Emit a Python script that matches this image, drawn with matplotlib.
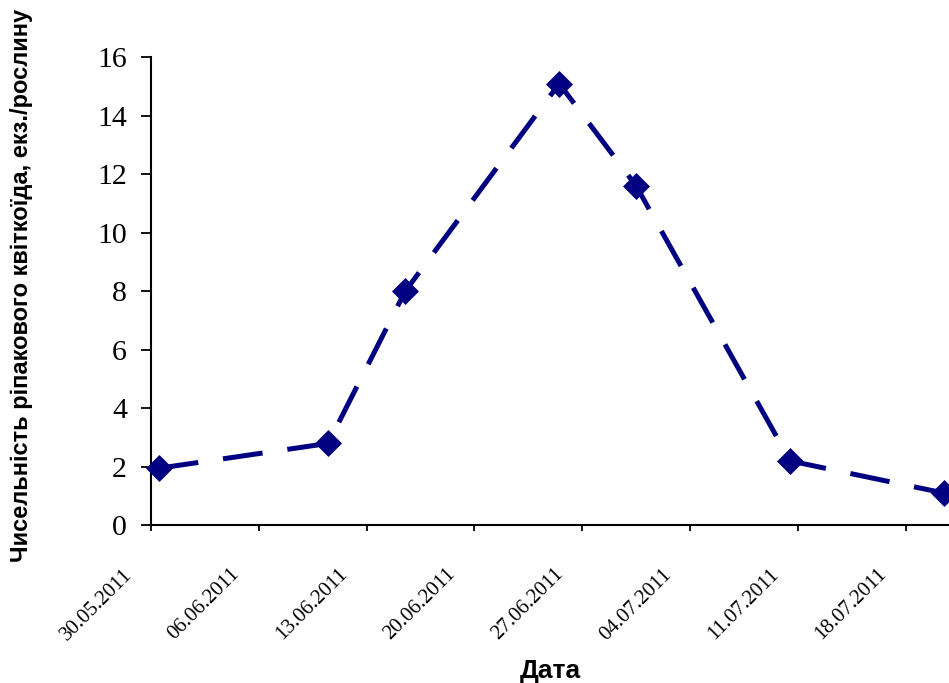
import numpy as np
import pandas as pd
import matplotlib
matplotlib.use('Agg')
import matplotlib.pyplot as plt
import matplotlib.transforms as mtransforms

# sampling dates and counts (specimens per plant)
dates = ['2011-05-30', '2011-06-10', '2011-06-15', '2011-06-25',
         '2011-06-30', '2011-07-10', '2011-07-20']
counts = [1.95, 2.8, 8.0, 15.1, 11.6, 2.2, 1.1]

tick_dates = ['2011-05-30', '2011-06-06', '2011-06-13', '2011-06-20',
              '2011-06-27', '2011-07-04', '2011-07-11', '2011-07-18']
tick_labels = ['30.05.2011', '06.06.2011', '13.06.2011', '20.06.2011',
               '27.06.2011', '04.07.2011', '11.07.2011', '18.07.2011']
y_ticks = [0, 2, 4, 6, 8, 10, 12, 14, 16]

ylab = 'Чисельність ріпакового квіткоїда, екз./рослину'
xlab = 'Дата'

# excel date axis puts points in the middle of the day
x = pd.to_datetime(dates) + pd.Timedelta(hours=12)
xt = pd.to_datetime(tick_dates)

fig = plt.figure(figsize=(9.49, 6.83), dpi=100)
ax = fig.add_axes([151/949, 1-525.3/683, 801/949, (525.3-57.3)/683])

navy = '#000080'
ax.plot(x, counts, color=navy, lw=3.6, ls=(0, (8, 5)), marker='D',
        ms=13, mec=navy, mfc=navy, mew=0.5, clip_on=False, zorder=3)

ax.set_xlim(pd.Timestamp('2011-05-30'), pd.Timestamp('2011-07-21'))
ax.set_ylim(0, 16)

ax.set_xticks(xt)
ax.set_xticklabels(tick_labels, rotation=45, ha='right', va='top',
                   family='Liberation Serif', fontsize=15)
ax.set_yticks(y_ticks)
ax.set_yticklabels([str(v) for v in y_ticks], family='Liberation Serif', fontsize=21.5)

ax.tick_params(axis='y', direction='out', length=7.2, width=1.3, pad=10)
ax.tick_params(axis='x', direction='out', length=4.5, width=1.3, pad=24)

# shift date labels a little to the left like excel does
shift = mtransforms.ScaledTranslation(-0.15, 0, fig.dpi_scale_trans)
for lbl in ax.get_xticklabels():
    lbl.set_transform(lbl.get_transform() + shift)

for s in ['top', 'right']:
    ax.spines[s].set_visible(False)
for s in ['left', 'bottom']:
    ax.spines[s].set_linewidth(1.5)

ax.set_xlabel(xlab, family='Liberation Sans', fontweight='bold', fontsize=19)
ax.xaxis.set_label_coords(0.498, -0.286)
ax.set_ylabel(ylab, family='Liberation Sans', fontweight='bold', fontsize=17)
ax.yaxis.set_label_coords(-0.162, 0.513)
ax.yaxis.label.set_va('center')

plt.savefig('out.png', dpi=100)
